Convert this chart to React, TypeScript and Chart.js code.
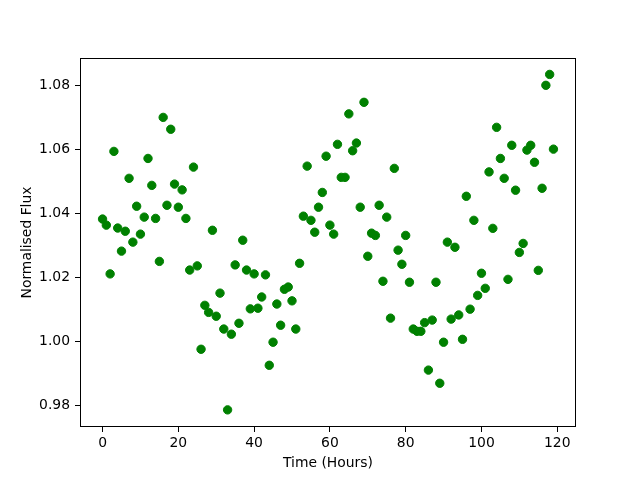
import React, { useEffect, useRef } from "react";
import { Chart, registerables } from "chart.js";

Chart.register(...registerables);

const hours = [
  0, 1, 2, 3, 4, 5, 6, 7, 8, 9, 10, 11, 12, 13, 14, 15, 16, 17, 18, 19,
  20, 21, 22, 23, 24, 25, 26, 27, 28, 29, 30, 31, 32, 33, 34, 35, 36, 37, 38, 39,
  40, 41, 42, 43, 44, 45, 46, 47, 48, 49, 50, 51, 52, 53, 54, 55, 56, 57, 58, 59,
  60, 61, 62, 63, 64, 65, 66, 67, 68, 69, 70, 71, 72, 73, 74, 75, 76, 77, 78, 79,
  80, 81, 82, 83, 84, 85, 86, 87, 88, 89, 90, 91, 92, 93, 94, 95, 96, 97, 98, 99,
  100, 101, 102, 103, 104, 105, 106, 107, 108, 109, 110, 111, 112, 113, 114, 115, 116, 117, 118, 119,
];

const flux = [
  1.0382, 1.0363, 1.0211, 1.0593, 1.0354, 1.0282, 1.0344, 1.0509, 1.031, 1.0422,
  1.0335, 1.0388, 1.0571, 1.0487, 1.0384, 1.025, 1.0699, 1.0425, 1.0662, 1.0491,
  1.0419, 1.0473, 1.0384, 1.0223, 1.0544, 1.0236, 0.9976, 1.0113, 1.0091, 1.0347,
  1.0079, 1.0151, 1.0039, 0.9787, 1.0023, 1.0239, 1.0057, 1.0316, 1.0223, 1.0102,
  1.0211, 1.0104, 1.0139, 1.0208, 0.9926, 0.9998, 1.0117, 1.0051, 1.0163, 1.017,
  1.0127, 1.0039, 1.0244, 1.0391, 1.0547, 1.0378, 1.0341, 1.0419, 1.0465, 1.0578,
  1.0363, 1.0335, 1.0615, 1.0512, 1.0512, 1.071, 1.0595, 1.0619, 1.0419, 1.0746,
  1.0266, 1.0338, 1.0331, 1.0425, 1.0188, 1.0388, 1.0073, 1.054, 1.0285, 1.0241,
  1.0331, 1.0185, 1.0039, 1.0032, 1.0032, 1.0059, 0.9911, 1.0067, 1.0185, 0.987,
  0.9998, 1.031, 1.007, 1.0294, 1.0083, 1.0007, 1.0453, 1.0101, 1.0378, 1.0144,
  1.0213, 1.0166, 1.0529, 1.0353, 1.0668, 1.0571, 1.0509, 1.0194, 1.0612, 1.0472,
  1.0278, 1.0306, 1.0597, 1.0612, 1.0559, 1.0222, 1.0478, 1.0799, 1.0833, 1.06,
];

const xTicks = [0, 20, 40, 60, 80, 100, 120];
const yTicks = [0.98, 1.0, 1.02, 1.04, 1.06, 1.08];
const xTitle = "Time (Hours)";
const yTitle = "Normalised Flux";

const FONT = "'DejaVu Sans', sans-serif";
const FS = 13.9;

const framePlugin = {
  id: "frame",
  afterDatasetsDraw(chart: any) {
    const { ctx, chartArea: a } = chart;
    ctx.save();
    ctx.strokeStyle = "#000";
    ctx.lineWidth = 1;
    const l = Math.round(a.left) + 0.5;
    const t = Math.round(a.top) + 0.5;
    const r = Math.round(a.right) - 0.5;
    const b = Math.round(a.bottom) - 0.5;
    ctx.strokeRect(l, t, r - l, b - t);
    ctx.restore();
  },
};

export default function App() {
  const ref = useRef<HTMLCanvasElement>(null);

  useEffect(() => {
    if (!ref.current) return;
    const chart = new Chart(ref.current, {
      type: "scatter",
      data: {
        datasets: [
          {
            data: hours.map((h, i) => ({ x: h, y: flux[i] })),
            backgroundColor: "#008000",
            borderColor: "#008000",
            borderWidth: 1,
            pointRadius: 4.2,
            pointHoverRadius: 4.2,
          },
        ],
      },
      options: {
        responsive: false,
        animation: false,
        events: [],
        layout: { padding: { top: 58, right: 64, left: 0, bottom: 0 } },
        plugins: { legend: { display: false }, tooltip: { enabled: false } },
        scales: {
          x: {
            type: "linear",
            min: -5.95,
            max: 124.95,
            border: { display: false },
            grid: {
              display: true,
              drawOnChartArea: false,
              drawTicks: true,
              tickLength: 5,
              color: "#000",
            },
            afterBuildTicks: (s: any) => {
              s.ticks = xTicks.map((v) => ({ value: v }));
            },
            afterFit: (s: any) => {
              s.height = 53;
            },
            ticks: {
              color: "#000",
              padding: 3,
              maxRotation: 0,
              autoSkip: false,
              font: { family: FONT, size: FS },
              callback: (v: any) => String(v),
            },
            title: {
              display: true,
              text: xTitle,
              color: "#000",
              font: { family: FONT, size: FS },
              padding: { top: 0, bottom: 8.6 },
            },
          },
          y: {
            type: "linear",
            min: 0.97336,
            max: 1.08842,
            border: { display: false },
            grid: {
              display: true,
              drawOnChartArea: false,
              drawTicks: true,
              tickLength: 5,
              color: "#000",
            },
            afterBuildTicks: (s: any) => {
              s.ticks = yTicks.map((v) => ({ value: v }));
            },
            afterFit: (s: any) => {
              s.width = 80;
            },
            ticks: {
              color: "#000",
              padding: 5,
              autoSkip: false,
              font: { family: FONT, size: FS },
              callback: (v: any) => Number(v).toFixed(2),
            },
            title: {
              display: true,
              text: yTitle,
              color: "#000",
              font: { family: FONT, size: FS },
              padding: { top: 18.6, bottom: 0 },
            },
          },
        },
      },
      plugins: [framePlugin],
    });
    return () => chart.destroy();
  }, []);

  return (
    <div style={{ position: "absolute", left: 0, top: 0, width: 640, height: 480, background: "#fff" }}>
      <canvas ref={ref} width={640} height={480} style={{ display: "block" }} />
    </div>
  );
}
